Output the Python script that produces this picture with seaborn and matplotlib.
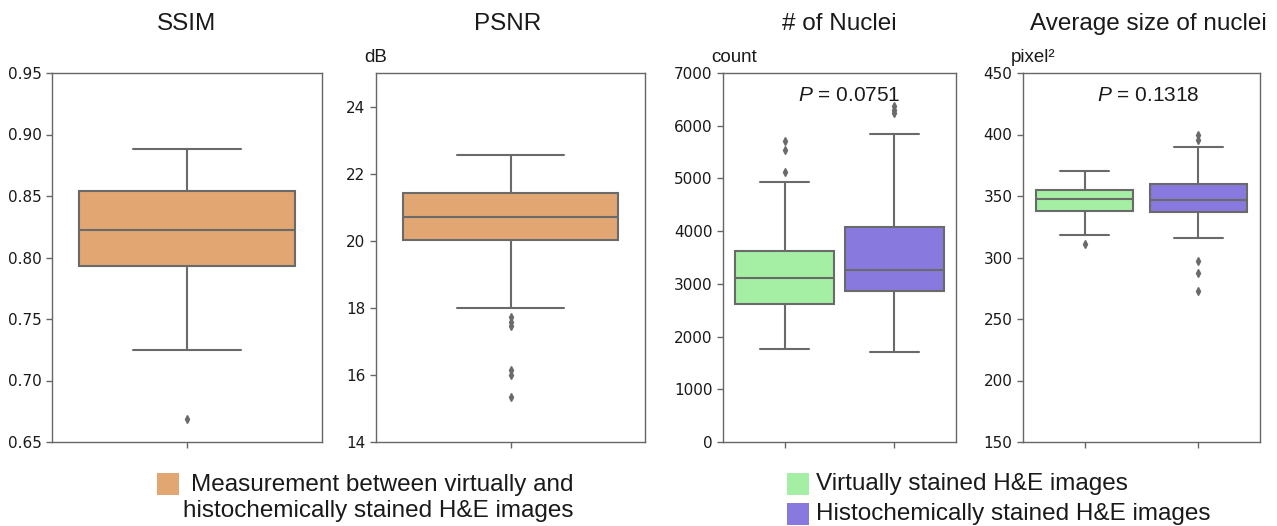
import numpy as np
import pandas as pd
import matplotlib
matplotlib.use("Agg")
import matplotlib.pyplot as plt
import seaborn as sns
from matplotlib.patches import Rectangle

# box summaries: low fliers, lower whisker, q1, median, q3, upper whisker, high fliers
ssim_stats = [[0.669], 0.725, 0.793, 0.822, 0.854, 0.888, []]
psnr_stats = [[15.35, 16.0, 16.15, 17.45, 17.58, 17.72], 18.0, 20.02, 20.72, 21.41, 22.57, []]

nuclei_virtual = [[], 1760, 2620, 3120, 3620, 4940, [5130, 5540, 5715]]
nuclei_histo = [[], 1700, 2858, 3266, 4074, 5843, [6240, 6300, 6365]]

size_virtual = [[311], 318.5, 337.5, 347.4, 354.5, 370, []]
size_histo = [[273, 287, 297.5], 316, 337, 346.6, 360, 389.7, [395.5, 399.5]]

groups = ["Virtually stained H&E images", "Histochemically stained H&E images"]
measure_label = "Measurement between virtually and\nhistochemically stained H&E images"
p_nuclei = "0.0751"
p_size = "0.1318"

orange = "sandybrown"
green = "palegreen"
purple = "mediumslateblue"


def box_sample(st):
    # expand a five number summary into a sample with exactly those quartiles (n = 4k+1)
    lo_f, lo, q1, med, q3, hi, hi_f = st
    k = max(len(lo_f), len(hi_f)) + 1
    low = list(lo_f) + [lo] + [q1] * (k - len(lo_f))
    top = [q3] * (k - len(hi_f) - 1) + [hi] + list(hi_f)
    return low + [med] * k + [q3] * k + top


def two_group_df(a, b):
    va, vb = box_sample(a), box_sample(b)
    return pd.DataFrame({"group": [groups[0]] * len(va) + [groups[1]] * len(vb),
                         "value": va + vb})


sns.set_style("ticks", rc={"axes.edgecolor": "0.4", "xtick.color": "0.4", "ytick.color": "0.4",
                           "text.color": "0.1", "axes.labelcolor": "0.1"})
plt.rcParams["font.family"] = ["DejaVu Sans"]
plt.rcParams["mathtext.fontset"] = "custom"
plt.rcParams["mathtext.it"] = "Liberation Sans:italic"
plt.rcParams["mathtext.rm"] = "Liberation Sans"

W, H = 1277, 526
fig = plt.figure(figsize=(W / 100, H / 100), dpi=100)


def add_ax(left, right, top=73, bottom=442):
    return fig.add_axes([left / W, 1 - bottom / H, (right - left) / W, (bottom - top) / H])


ax1 = add_ax(52, 322)
ax2 = add_ax(376, 645)
ax3 = add_ax(723, 956)
ax4 = add_ax(1023, 1260)

box_kw = dict(linecolor="#6a6a6a", linewidth=1.5, fliersize=4,
              flierprops={"marker": "d", "markerfacecolor": "#6a6a6a", "markeredgecolor": "#6a6a6a"})
label_font = "Liberation Sans"

# SSIM and PSNR
for ax, st in [(ax1, ssim_stats), (ax2, psnr_stats)]:
    vals = box_sample(st)
    df = pd.DataFrame({"group": ["m"] * len(vals), "value": vals})
    sns.boxplot(data=df, x="group", y="value", color=orange, width=0.8, ax=ax, **box_kw)
    ax.set_xlim(-0.5, 0.5)

ax1.set_ylim(0.65, 0.95)
ax1.set_yticks(np.arange(0.65, 0.951, 0.05))
ax1.set_yticklabels([f"{t:.2f}" for t in np.arange(0.65, 0.951, 0.05)])
ax2.set_ylim(14, 25)
ax2.set_yticks(range(14, 25, 2))

# nuclei count and size
sns.boxplot(data=two_group_df(nuclei_virtual, nuclei_histo), x="group", y="value", hue="group",
            palette=[green, purple], width=0.9, legend=False, ax=ax3, **box_kw)
ax3.set_xlim(-0.56, 1.56)
ax3.set_ylim(0, 7000)
ax3.set_yticks(range(0, 7001, 1000))

sns.boxplot(data=two_group_df(size_virtual, size_histo), x="group", y="value", hue="group",
            palette=[green, purple], width=0.85, legend=False, ax=ax4, **box_kw)
ax4.set_xlim(-0.54, 1.54)
ax4.set_ylim(150, 450)
ax4.set_yticks(range(150, 451, 50))

titles = ["SSIM", "PSNR", "# of Nuclei", "Average size of nuclei"]
title_x = [0.5, 0.49, 0.5, 0.53]
units = [None, "dB", "count", "pixel²"]
for ax, t, tx, u in zip([ax1, ax2, ax3, ax4], titles, title_x, units):
    ax.set_xlabel("")
    ax.set_ylabel("")
    ax.set_xticklabels([""] * len(ax.get_xticks()))
    ax.tick_params(length=4, width=1, labelsize=11, labelcolor="0.1")
    for s in ax.spines.values():
        s.set_linewidth(1)
    ax.text(tx, 1 + 49 / 369, t, transform=ax.transAxes, ha="center", va="center",
            fontsize=17.5, family=label_font)
    if u:
        ax.annotate(u, xy=(0, 1), xycoords="axes fraction", xytext=(-12, 15),
                    textcoords="offset pixels", ha="left", va="center",
                    fontsize=13.5, family=label_font)

ax3.text(0.54, 0.94, "$P$ = " + p_nuclei, transform=ax3.transAxes, ha="center", va="center",
         fontsize=15, family=label_font)
ax4.text(0.53, 0.94, "$P$ = " + p_size, transform=ax4.transAxes, ha="center", va="center",
         fontsize=15, family=label_font)

# legends drawn under the panels
def square(x, y, color):
    fig.add_artist(Rectangle((x / W, 1 - (y + 22) / H), 22 / W, 22 / H,
                             transform=fig.transFigure, facecolor=sns.desaturate(color, 0.75),
                             edgecolor="none"))


square(157, 473, orange)
fig.text(183 / W, 1 - 498 / H, measure_label, ha="left", va="center", multialignment="right",
         fontsize=17.5, family=label_font)

square(787, 473, green)
square(787, 503, purple)
fig.text(816 / W, 1 - 484 / H, groups[0], ha="left", va="center", fontsize=17.5, family=label_font)
fig.text(816 / W, 1 - 514 / H, groups[1], ha="left", va="center", fontsize=17.5, family=label_font)

fig.savefig("out.png", dpi=100)
